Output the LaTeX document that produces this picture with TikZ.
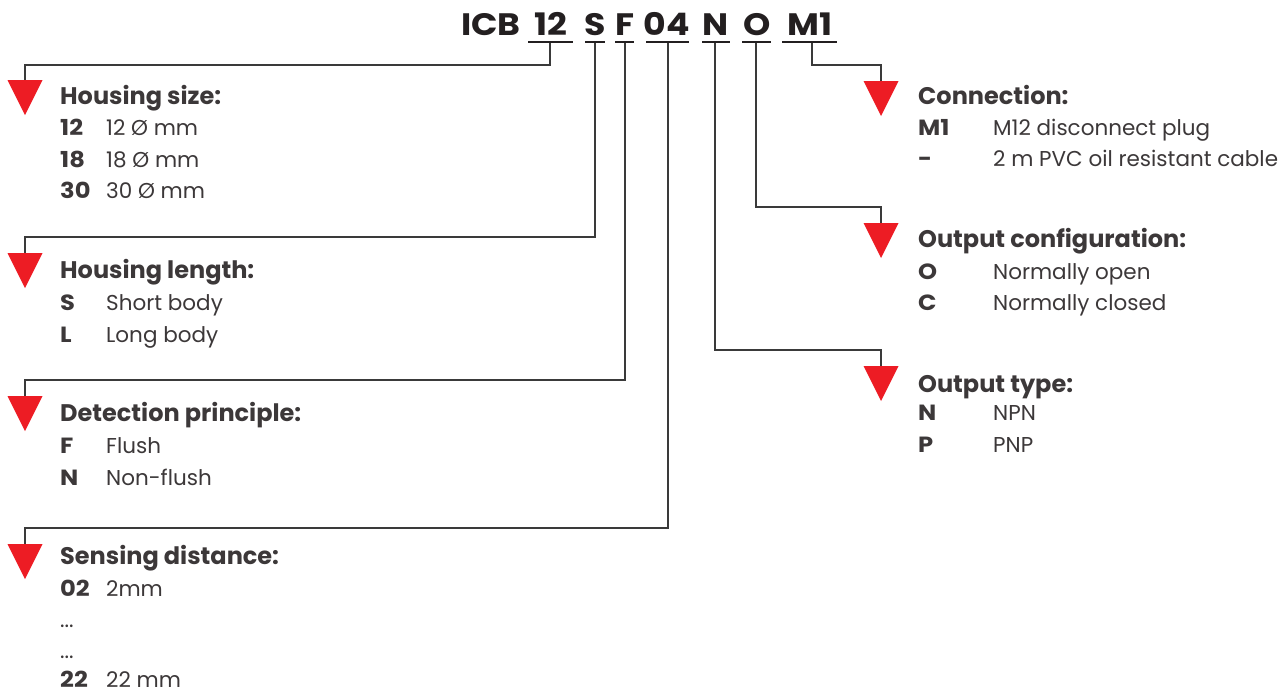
\documentclass[tikz,border=0pt]{standalone}
\usepackage{fontspec}
\setmainfont{Poppins}
\newfontfamily\hdrfont[FakeStretch=1.12]{Poppins}
\newfontfamily\keyfont[FakeStretch=1.1]{Poppins}
\definecolor{txt}{HTML}{3C3839}
\definecolor{hdr}{HTML}{231F20}
\definecolor{arr}{HTML}{ED1C24}
\definecolor{ln}{HTML}{3A3A3A}
\tikzset{
  code/.style={anchor=base, inner sep=0pt, font=\hdrfont\fontsize{31}{31}\selectfont\bfseries, text=hdr},
  head/.style={anchor=base west, inner sep=0pt, font=\fontsize{24}{24}\selectfont\bfseries, text=txt},
  key/.style={anchor=base west, inner sep=0pt, font=\keyfont\fontsize{22}{22}\selectfont\bfseries, text=txt},
  val/.style={anchor=base west, inner sep=0pt, font=\fontsize{21.5}{21.5}\selectfont, text=txt},
  conn/.style={draw=ln, line width=1.3pt},
  uline/.style={draw=hdr, line width=2.2pt},
  tri/.style={fill=arr}
}
\newcommand{\dtri}[1]{\fill[tri] ($(#1)+(-17.5,0)$) -- ($(#1)+(17.5,0)$) -- ($(#1)+(0,35)$) -- cycle;}
\usetikzlibrary{calc}
\begin{document}
\begin{tikzpicture}[x=1pt,y=-1pt]
\useasboundingbox (0,0) rectangle (1278,694);
% header
\node[code] (cICB) at (491,35) {ICB};
\node[code] (c12) at (551,35) {12};
\node[code] (cS) at (595,35) {S};
\node[code] (cF) at (625,35) {F};
\node[code] (c04) at (667,35) {04};
\node[code] (cN) at (716,35) {N};
\node[code] (cO) at (757,35) {O};
\node[code] (cM1) at (810,35) {M1};
\foreach \a/\b in {528/573,585/605,615/634,646/689,702/730,742/771,782/837}
  \draw[uline] (\a,42) -- (\b,42);
% arrow tops
\coordinate (t1) at (25,80);
\coordinate (t2) at (25,253);
\coordinate (t3) at (25,396);
\coordinate (t4) at (25,544);
\coordinate (t5) at (881,81);
\coordinate (t6) at (881,223);
\coordinate (t7) at (881,366);
% bends
\coordinate (b1) at (25,65);
\coordinate (b2) at (25,237);
\coordinate (b3) at (25,380);
\coordinate (b4) at (25,528);
\coordinate (b5) at (881,65);
\coordinate (b6) at (881,207);
\coordinate (b7) at (881,350);
\draw[conn] (550,43) |- (b1) -- (t1);
\draw[conn] (595,43) |- (b2) -- (t2);
\draw[conn] (625,43) |- (b3) -- (t3);
\draw[conn] (668,43) |- (b4) -- (t4);
\draw[conn] (812,43) |- (b5) -- (t5);
\draw[conn] (756,43) |- (b6) -- (t6);
\draw[conn] (715,43) |- (b7) -- (t7);
\dtri{t1}\dtri{t2}\dtri{t3}\dtri{t4}\dtri{t5}\dtri{t6}\dtri{t7}
% left column
\node[head] (h1) at (60,104) {Housing size:};
\node[key] (k11) at (60,135) {12};
\node[val] (v11) at (106,135) {12 Ø mm};
\node[key] (k12) at (60,167) {18};
\node[val] (v12) at (106,167) {18 Ø mm};
\node[key] (k13) at (60,198) {30};
\node[val] (v13) at (106,198) {30 Ø mm};
\node[head] (h2) at (60,278) {Housing length:};
\node[key] (k21) at (60,310) {S};
\node[val] (v21) at (106,310) {Short body};
\node[key] (k22) at (60,342) {L};
\node[val] (v22) at (106,342) {Long body};
\node[head] (h3) at (60,421) {Detection principle:};
\node[key] (k31) at (60,453) {F};
\node[val] (v31) at (106,453) {Flush};
\node[key] (k32) at (60,485) {N};
\node[val] (v32) at (106,485) {Non-flush};
\node[head] (h4) at (60,564) {Sensing distance:};
\node[key] (k41) at (60,596) {02};
\node[val] (v41) at (106,596) {2mm};
\node[val] (d1) at (60,627) {...};
\node[val] (d2) at (60,658) {...};
\node[key] (k42) at (60,687) {22};
\node[val] (v42) at (106,687) {22 mm};
% right column
\node[head] (h5) at (918,104) {Connection:};
\node[key] (k51) at (918,135) {M1};
\node[val] (v51) at (993,135) {M12 disconnect plug};
\node[key] (k52) at (918,166) {-};
\node[val] (v52) at (993,166) {2 m PVC oil resistant cable};
\node[head] (h6) at (918,247) {Output configuration:};
\node[key] (k61) at (918,279) {O};
\node[val] (v61) at (993,279) {Normally open};
\node[key] (k62) at (918,310) {C};
\node[val] (v62) at (993,310) {Normally closed};
\node[head] (h7) at (918,392) {Output type:};
\node[key] (k71) at (918,420) {N};
\node[val] (v71) at (993,420) {NPN};
\node[key] (k72) at (918,452) {P};
\node[val] (v72) at (993,452) {PNP};
\end{tikzpicture}
\end{document}
